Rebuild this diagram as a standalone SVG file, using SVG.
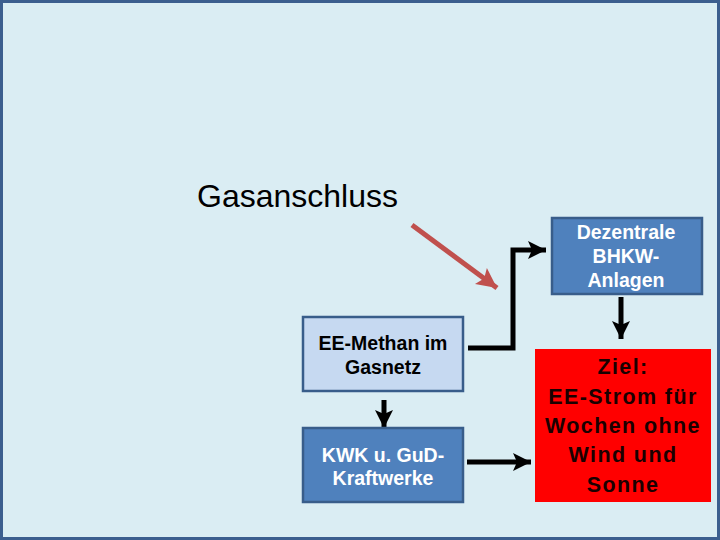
<svg xmlns="http://www.w3.org/2000/svg" width="720" height="540" viewBox="0 0 720 540">
<defs>
<style>
.bg{fill:#DAEDF3;stroke:#3B5E8E;stroke-width:3}
.box{stroke:#385D8A;stroke-width:2.5}
.dark{fill:#4F81BD}
.light{fill:#C6D9F1}
.red{fill:#FF0000}
.t{font-family:"Liberation Sans",Arial,sans-serif;font-weight:bold;text-anchor:middle}
.w{fill:#FFFFFF;font-size:19.5px}
.b{fill:#000000;font-size:19.5px}
.z{fill:#1a0000;font-size:21.5px;letter-spacing:1.4px}
.c{fill:none;stroke:#000;stroke-width:5}
</style>
<marker id="ah" markerUnits="userSpaceOnUse" markerWidth="22" markerHeight="22" viewBox="0 0 22 22" refX="20" refY="11" orient="auto">
<path d="M2,2 L20,11 L2,20 L6,11 Z" fill="#000"/>
</marker>
<marker id="ahr" markerUnits="userSpaceOnUse" markerWidth="24" markerHeight="24" viewBox="0 0 24 24" refX="22" refY="12" orient="auto">
<path d="M2,2 L22,12 L2,22 L6,12 Z" fill="#C0504D"/>
</marker>
</defs>
<rect class="bg" x="1.5" y="1.5" width="717" height="537"/>
<text x="197" y="207" font-family="'Liberation Sans',Arial,sans-serif" font-size="32" fill="#000">Gasanschluss</text>
<g id="connectors">
<line x1="412" y1="225" x2="497" y2="288" stroke="#C0504D" stroke-width="5" marker-end="url(#ahr)"/>
<polyline class="c" points="468,348 513,348 513,250 546,250" marker-end="url(#ah)"/>
<line class="c" x1="621" y1="297" x2="621" y2="339" marker-end="url(#ah)"/>
<line class="c" x1="384" y1="400" x2="384" y2="428" marker-end="url(#ah)"/>
<line class="c" x1="467" y1="462" x2="531" y2="462" marker-end="url(#ah)"/>
</g>
<g id="dezentrale">
<rect class="box dark" x="552" y="218" width="150" height="76"/>
<text class="t w" x="626" y="239">Dezentrale</text>
<text class="t w" x="626" y="263">BHKW-</text>
<text class="t w" x="626" y="287">Anlagen</text>
</g>
<g id="eemethan">
<rect class="box light" x="303" y="317" width="160" height="74"/>
<text class="t b" x="383" y="350">EE-Methan im</text>
<text class="t b" x="383" y="374">Gasnetz</text>
</g>
<g id="kwk">
<rect class="box dark" x="303" y="428" width="160" height="74"/>
<text class="t w" x="383" y="462">KWK u. GuD-</text>
<text class="t w" x="383" y="485">Kraftwerke</text>
</g>
<g id="ziel">
<rect class="red" x="535" y="349" width="176" height="153"/>
<text class="t z" x="623" y="374">Ziel:</text>
<text class="t z" x="623" y="404">EE-Strom für</text>
<text class="t z" x="623" y="433">Wochen ohne</text>
<text class="t z" x="623" y="462">Wind und</text>
<text class="t z" x="623" y="492">Sonne</text>
</g>
</svg>
